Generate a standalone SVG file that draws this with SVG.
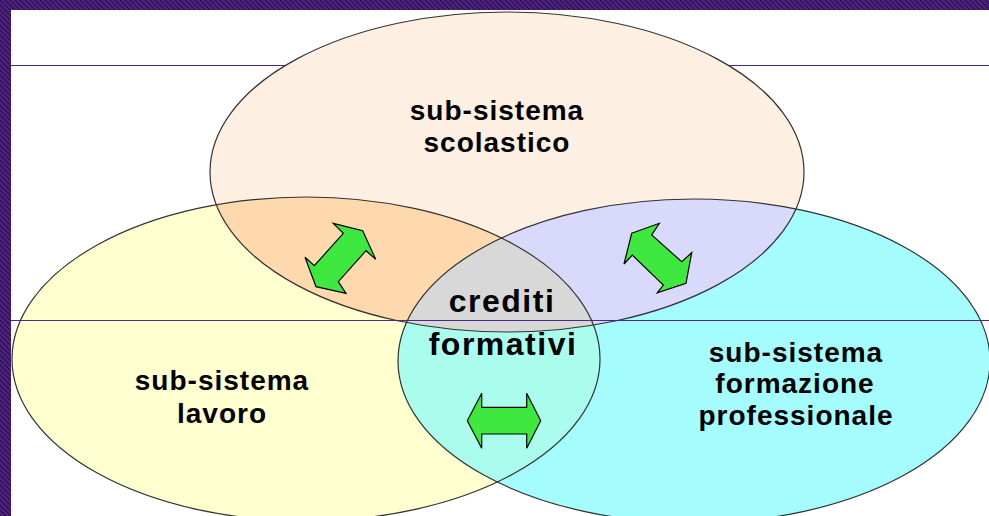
<svg xmlns="http://www.w3.org/2000/svg" width="989" height="516" viewBox="0 0 989 516">
<defs>
<style>
.lbl{font-family:"Liberation Sans",Arial,sans-serif;font-weight:bold;font-size:28px;letter-spacing:1px;fill:#000;text-anchor:middle}
.big{font-size:32px;letter-spacing:1.5px}
.outline{fill:none;stroke:#333;stroke-width:1.2}
.arrow{fill:#3ee83e;stroke:#000;stroke-width:1.2;stroke-linejoin:miter}
.rule{stroke:#4a2a80;stroke-width:1}
</style>
<pattern id="stripes" width="5" height="5" patternUnits="userSpaceOnUse">
<rect width="5" height="5" fill="#4b1f7d"/>
<path d="M-1,-1 L6,6 M-1,4 L1,6 M4,-1 L6,1" stroke="#1c0a30" stroke-width="1"/>
</pattern>
<ellipse id="eTop" cx="507" cy="172" rx="297" ry="160"/>
<ellipse id="eLeft" cx="306" cy="359" rx="294" ry="162"/>
<ellipse id="eRight" cx="694" cy="361" rx="296" ry="162"/>
<clipPath id="cTop"><use href="#eTop"/></clipPath>
<clipPath id="cLeft"><use href="#eLeft"/></clipPath>
</defs>
<rect width="989" height="516" fill="#fff"/>
<rect x="0" y="0" width="989" height="10" fill="url(#stripes)"/>
<rect x="0" y="0" width="11" height="516" fill="url(#stripes)"/>
<line class="rule" x1="11" y1="65.5" x2="989" y2="65.5"/>

<g id="node-scolastico">
<use href="#eTop" fill="#fdf0e3"/>
</g>
<g id="node-lavoro">
<use href="#eLeft" fill="#ffffcf"/>
</g>
<g id="node-formazione">
<use href="#eRight" fill="#a4fcfc"/>
</g>
<g id="overlaps">
<g clip-path="url(#cTop)"><use href="#eLeft" fill="#fed9ad"/><use href="#eRight" fill="#d9d9fc"/></g>
<g clip-path="url(#cLeft)"><use href="#eRight" fill="#aafcec"/></g>
<g clip-path="url(#cTop)"><g clip-path="url(#cLeft)"><use href="#eRight" fill="#d8d8d8"/></g></g>
</g>
<g id="outlines">
<use href="#eTop" class="outline"/>
<use href="#eLeft" class="outline"/>
<use href="#eRight" class="outline"/>
</g>
<line class="rule" x1="11" y1="320.5" x2="989" y2="320.5"/>

<g id="connectors">
<polygon class="arrow" points="333.3,223.3 362.7,230.7 375.7,259.3 366,250.7 338.3,281.7 346,293.3 316,286.7 305,257.3 314.3,265.7 343.3,233.3"/>
<polygon class="arrow" points="631.7,233.3 659.3,223.3 651.7,235 681.7,261.7 691.7,252.7 686,283.3 657.3,292.7 663.3,285 632.3,255 624,264"/>
<polygon class="arrow" points="467.3,420.7 481.7,393.3 481.7,407.3 526.7,407.3 526.7,393.3 540.7,420.7 526.7,448.3 526.7,434 481.7,434 481.7,448.3"/>
</g>

<g id="label-scolastico">
<text class="lbl" x="497" y="120">sub-sistema</text>
<text class="lbl" x="497" y="152">scolastico</text>
</g>
<g id="label-lavoro">
<text class="lbl" x="222" y="390">sub-sistema</text>
<text class="lbl" x="222" y="423">lavoro</text>
</g>
<g id="label-formazione">
<text class="lbl" x="796" y="362">sub-sistema</text>
<text class="lbl" x="795" y="393">formazione</text>
<text class="lbl" x="796" y="425">professionale</text>
</g>
<g id="node-crediti">
<text class="lbl big" x="502" y="312">crediti</text>
<text class="lbl big" x="503" y="355">formativi</text>
</g>
</svg>
